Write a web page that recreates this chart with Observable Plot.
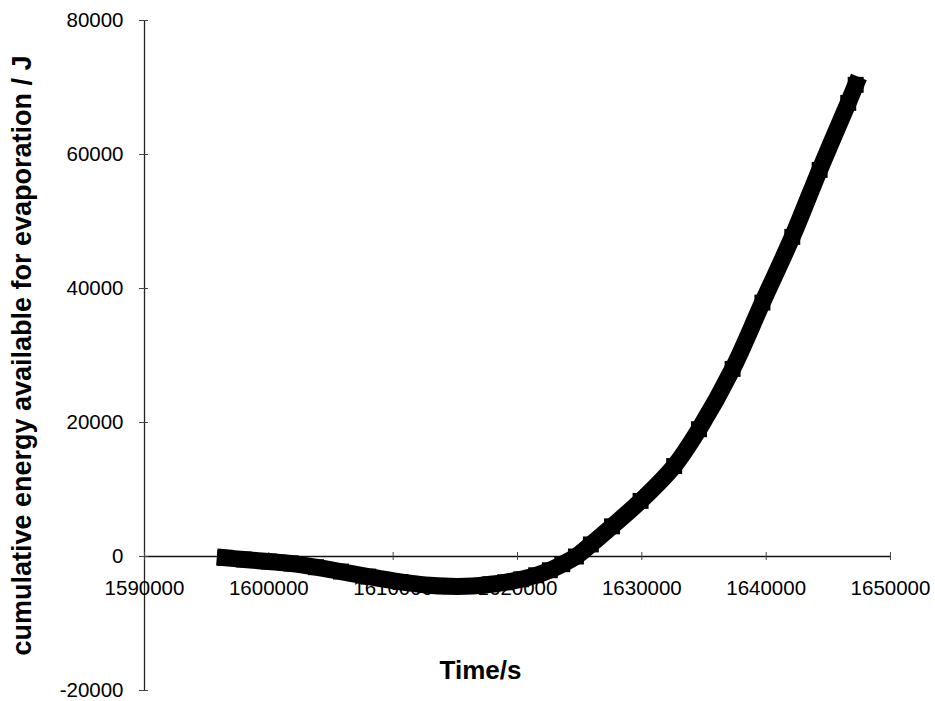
<!DOCTYPE html>
<html>
<head>
<meta charset="utf-8">
<script src="https://cdn.jsdelivr.net/npm/d3@7"></script>
<script src="https://cdn.jsdelivr.net/npm/@observablehq/plot@0.6"></script>
<style>
  html, body { margin: 0; padding: 0; background: #fff; }
</style>
</head>
<body>
<div id="chart"></div>
<script>
// Values
const time = [1596500, 1598000, 1600000, 1601800, 1603800, 1605800, 1608000, 1610600, 1612600, 1614600,
              1616400, 1617800, 1619000, 1620300, 1621500, 1622600, 1623600, 1624700, 1625900, 1627600,
              1629900, 1632600, 1634600, 1637300, 1639700, 1642100, 1644300, 1646600, 1647200];
const energy = [-200, -450, -750, -1050, -1600, -2250, -3000, -3800, -4250, -4450,
                -4400, -4150, -3850, -3400, -2800, -2050, -1150, 0, 1800, 4500,
                8300, 13500, 19000, 28000, 37900, 47700, 57700, 67700, 70400];
const xTicks = [1590000, 1600000, 1610000, 1620000, 1630000, 1640000, 1650000];
const yTicks = [-20000, 0, 20000, 40000, 60000, 80000];
const xTitle = "Time/s";
const yTitle = "cumulative energy available for evaporation / J";

const data = time.map((t, i) => ({t, e: energy[i]}));
const x0 = xTicks[0], x1 = xTicks[xTicks.length - 1];
const y0 = yTicks[0], y1 = yTicks[yTicks.length - 1];
const font = "'Liberation Sans', Arial, sans-serif";

const chart = Plot.plot({
  width: 935,
  height: 701,
  marginLeft: 144,
  marginRight: 45,
  marginTop: 20,
  marginBottom: 11,
  style: {fontFamily: font, background: "#fff", color: "#000"},
  x: {domain: [x0, x1], axis: null},
  y: {domain: [y0, y1], axis: null},
  marks: [
    // y axis line
    Plot.ruleX([x0], {y1: y0, y2: y1, stroke: "#222", strokeWidth: 1.3}),
    // x axis line at y = 0
    Plot.ruleY([0], {x1: x0, x2: x1, stroke: "#111", strokeWidth: 1.6}),
    // y tick marks (crossing)
    Plot.ruleY(yTicks, {x1: x0, x2: x0, insetLeft: -5, insetRight: -4, stroke: "#444", strokeWidth: 1}),
    // x tick marks (crossing)
    Plot.ruleX(xTicks, {y1: 0, y2: 0, insetTop: -4, insetBottom: -4, stroke: "#444", strokeWidth: 1}),
    // tick labels
    Plot.text(yTicks, {x: x0, y: d => d, text: d => String(d), textAnchor: "end", dx: -21, fontSize: 20.5, fill: "#000"}),
    Plot.text(xTicks, {x: d => d, y: 0, text: d => String(d), dy: 32, fontSize: 20.5, fill: "#000"}),
    // axis titles
    Plot.text([xTitle], {frameAnchor: "bottom", text: d => d, textAnchor: "middle", dx: -37, dy: -12, fontSize: 26, fontWeight: "bold", fill: "#000"}),
    Plot.text([yTitle], {frameAnchor: "left", text: d => d, textAnchor: "middle", rotate: -90, dx: -122, fontSize: 27, fontWeight: "bold", fill: "#000"}),
    // data
    Plot.line(data, {x: "t", y: "e", stroke: "#000", strokeWidth: 17, strokeLinecap: "square", curve: "catmull-rom"}),
    Plot.dot(data, {x: "t", y: "e", symbol: "square", r: 9, fill: "#000", stroke: "none"})
  ]
});
document.getElementById("chart").appendChild(chart);
</script>
</body>
</html>
